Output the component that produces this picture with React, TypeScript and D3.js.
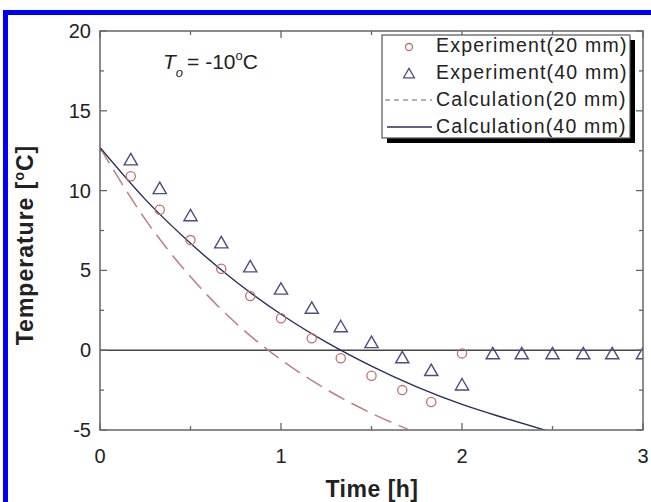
import React from "react";
import * as d3 from "d3";

// Measured temperatures, sampled every 10 minutes
const expTime20 = [0.17, 0.33, 0.5, 0.67, 0.83, 1.0, 1.17, 1.33, 1.5, 1.67, 1.83, 2.0];
const expTemp20 = [10.9, 8.8, 6.9, 5.1, 3.4, 2.0, 0.75, -0.5, -1.6, -2.5, -3.25, -0.2];

const expTime40 = [0.17, 0.33, 0.5, 0.67, 0.83, 1.0, 1.17, 1.33, 1.5, 1.67, 1.83, 2.0, 2.17, 2.33, 2.5, 2.67, 2.83, 3.0];
const expTemp40 = [11.9, 10.1, 8.4, 6.7, 5.2, 3.8, 2.6, 1.45, 0.45, -0.5, -1.3, -2.2, -0.25, -0.25, -0.25, -0.25, -0.25, -0.25];

// Calculated cooling curves
const calcTime20 = [0, 0.25, 0.5, 0.75, 1.0, 1.25, 1.5, 1.7];
const calcTemp20 = [12.7, 8.2, 4.6, 1.7, -0.6, -2.45, -3.95, -4.95];

const calcTime40 = [0, 0.25, 0.5, 0.75, 1.0, 1.25, 1.5, 1.75, 2.0, 2.25, 2.5];
const calcTemp40 = [12.7, 9.45, 6.7, 4.3, 2.25, 0.5, -1.0, -2.3, -3.4, -4.3, -5.15];

const xTicks = [0, 1, 2, 3];
const xMinor = [0.5, 1.5, 2.5];
const yTicks = [-5, 0, 5, 10, 15, 20];
const yMinor = [-2.5, 2.5, 7.5, 12.5, 17.5];

const legendLabels = ["Experiment(20 mm)", "Experiment(40 mm)", "Calculation(20 mm)", "Calculation(40 mm)"];

const W = 651;
const H = 502;
const plot = { left: 100, right: 643, top: 31, bottom: 430 };

const C_CIRCLE = "#c0706c";
const C_TRI = "#4c4c86";
const C_SOLID = "#2c2c5c";
const C_DASH = "#c07e80";
const C_FRAME = "#666";
const FONT = "Arial, 'Liberation Sans', Helvetica, sans-serif";

export default function App() {
  const x = d3.scaleLinear().domain([0, 3]).range([plot.left, plot.right]);
  const y = d3.scaleLinear().domain([-5, 20]).range([plot.bottom, plot.top]);

  const line = d3
    .line<[number, number]>()
    .x((d) => x(d[0]))
    .y((d) => y(d[1]))
    .curve(d3.curveMonotoneX);

  const path20 = line(calcTime20.map((t, i) => [t, calcTemp20[i]]) as [number, number][]) || "";
  const path40 = line(calcTime40.map((t, i) => [t, calcTemp40[i]]) as [number, number][]) || "";

  const tri = (cx: number, cy: number, s: number) =>
    `M${cx},${cy - s * 0.62}L${cx + s * 0.6},${cy + s * 0.42}L${cx - s * 0.6},${cy + s * 0.42}Z`;

  const majorLen = 7;
  const minorLen = 4;

  const lg = { x: 382, y: 35, w: 248, h: 103 };
  const rowY = [52, 79, 106, 133];

  return (
    <svg
      width={W}
      height={H}
      style={{ position: "absolute", left: 0, top: 0, background: "#fff" }}
      fontFamily={FONT}
    >
      <defs>
        <clipPath id="plotClip">
          <rect x={plot.left} y={plot.top} width={plot.right - plot.left} height={plot.bottom - plot.top} />
        </clipPath>
      </defs>
      <rect x={0} y={0} width={W} height={H} fill="#fff" />

      {/* blue page border */}
      <rect x={3} y={10} width={W - 3} height={5} fill="#0000f8" />
      <rect x={3} y={10} width={5} height={H - 10} fill="#0000f8" />

      {/* zero line */}
      <line x1={plot.left} x2={plot.right} y1={y(0)} y2={y(0)} stroke="#444" strokeWidth={1.5} />

      {/* curves */}
      <g clipPath="url(#plotClip)">
        <path d={path20} fill="none" stroke={C_DASH} strokeWidth={1.5} strokeDasharray="18,8" />
        <path d={path40} fill="none" stroke={C_SOLID} strokeWidth={1.4} />
        {expTime20.map((t, i) => (
          <circle key={"c" + i} cx={x(t)} cy={y(expTemp20[i])} r={4.6} fill="none" stroke={C_CIRCLE} strokeWidth={1.3} />
        ))}
        {expTime40.map((t, i) => (
          <path key={"t" + i} d={tri(x(t), y(expTemp40[i]), 11)} fill="none" stroke={C_TRI} strokeWidth={1.4} />
        ))}
      </g>

      {/* frame */}
      <rect
        x={plot.left}
        y={plot.top}
        width={plot.right - plot.left}
        height={plot.bottom - plot.top}
        fill="none"
        stroke={C_FRAME}
        strokeWidth={1.5}
      />

      {/* ticks on all sides, inward */}
      <g stroke={C_FRAME} strokeWidth={1.3}>
        {xTicks.concat(xMinor).map((t) => {
          const len = xTicks.includes(t) ? majorLen : minorLen;
          return (
            <g key={"xt" + t}>
              <line x1={x(t)} x2={x(t)} y1={plot.bottom} y2={plot.bottom - len} />
              <line x1={x(t)} x2={x(t)} y1={plot.top} y2={plot.top + len} />
            </g>
          );
        })}
        {yTicks.concat(yMinor).map((v) => {
          const len = yTicks.includes(v) ? majorLen : minorLen;
          return (
            <g key={"yt" + v}>
              <line x1={plot.left} x2={plot.left + len} y1={y(v)} y2={y(v)} />
              <line x1={plot.right} x2={plot.right - len} y1={y(v)} y2={y(v)} />
            </g>
          );
        })}
      </g>

      {/* tick labels */}
      <g fontSize={20} fill="#222">
        {xTicks.map((t) => (
          <text key={"xl" + t} x={x(t)} y={463} textAnchor="middle">
            {t}
          </text>
        ))}
        {yTicks.map((v) => (
          <text key={"yl" + v} x={91} y={y(v) + 7} textAnchor="end">
            {v}
          </text>
        ))}
      </g>

      {/* axis titles */}
      <text x={372} y={497} textAnchor="middle" fontSize={23} fontWeight="bold" fill="#222" letterSpacing={0.5}>
        Time [h]
      </text>
      <text
        transform={`translate(33, 245) rotate(-90)`}
        textAnchor="middle"
        fontSize={23}
        fontWeight="bold"
        fill="#222"
        letterSpacing={1}
      >
        Temperature [
        <tspan fontSize={14} dy={-9}>o</tspan>
        <tspan dy={9}>C]</tspan>
      </text>

      {/* initial temperature annotation */}
      <text x={163} y={69} fontSize={21} fill="#222">
        <tspan fontStyle="italic">T</tspan>
        <tspan fontStyle="italic" fontSize={13} dy={8}>o</tspan>
        <tspan dy={-8} dx={4}>= -10</tspan>
        <tspan fontSize={13} dy={-9}>o</tspan>
        <tspan dy={9}>C</tspan>
      </text>

      {/* legend */}
      <rect x={lg.x + 5} y={lg.y + 5} width={lg.w} height={lg.h} fill="#000" />
      <rect x={lg.x} y={lg.y} width={lg.w} height={lg.h} fill="#fff" stroke="#555" strokeWidth={1.2} />
      <circle cx={409} cy={rowY[0] - 5} r={3.5} fill="none" stroke={C_CIRCLE} strokeWidth={1.3} />
      <path d={tri(409, rowY[1] - 5, 9)} fill="none" stroke={C_TRI} strokeWidth={1.3} />
      <line x1={385} x2={432} y1={rowY[2] - 6} y2={rowY[2] - 6} stroke="#999" strokeWidth={1.3} strokeDasharray="5,4" />
      <line x1={387} x2={432} y1={rowY[3] - 6} y2={rowY[3] - 6} stroke={C_SOLID} strokeWidth={1.3} />
      <g fontSize={19.5} fill="#222" letterSpacing={1.2}>
        {legendLabels.map((s, i) => (
          <text key={s} x={436} y={rowY[i]}>
            {s}
          </text>
        ))}
      </g>
    </svg>
  );
}
